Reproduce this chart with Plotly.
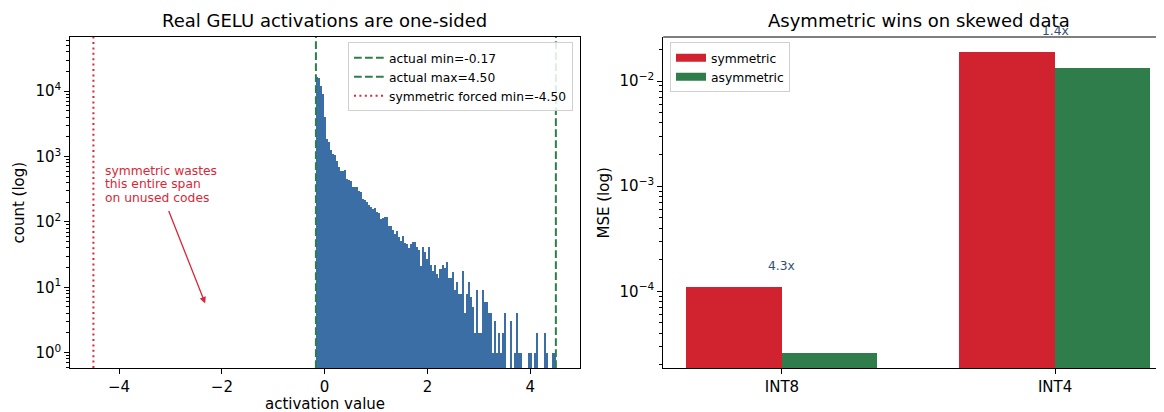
import numpy as np
import plotly.graph_objects as go

# ---------------- data ----------------
act_min = -0.17
act_max = 4.50
sym_min = -4.50
n_bins = 120
hist_counts = [
    16400, 16000, 12200, 9100, 4000, 1870, 1660, 1240, 1100, 1040,
    870, 690, 612, 612, 620, 457, 431, 420, 341, 341,
    340, 300, 286, 226, 215, 201, 179, 170, 159, 162,
    141, 135, 112, 115, 118, 118, 88, 88, 75, 66,
    72, 58, 52, 60, 48, 46, 40, 46, 49, 49,
    41, 37, 21, 41, 35, 27, 42, 22, 18, 22,
    16, 14, 19, 22, 20, 24, 14, 14, 17, 9,
    12, 8, 8, 18, 4, 8, 12, 7, 5, 2,
    9, 2, 2, 9, 6, 6, 4, 4, 1, 3,
    1, 2, 1, 2, 4, 0, 0, 3, 0, 1,
    4, 1, 1, 0, 0, 0, 1, 1, 0, 1,
    2, 0, 0, 0, 2, 1, 0, 0, 1, 1,
]
formats = ["INT8", "INT4"]
mse_symmetric = [1.11e-4, 1.89e-2]
mse_asymmetric = [2.57e-5, 1.33e-2]
ratio_labels = ["4.3x", "1.4x"]
note_lines = ["symmetric wastes", "this entire span", "on unused codes"]

# ---------------- style / geometry ----------------
VIEW_W, VIEW_H = 1164, 412
OFF = 8  # page body margin in the browser
W, H = VIEW_W - OFF, VIEW_H - OFF
FONT = "DejaVu Sans"
BLUE = "#3b6ea5"
GREEN = "#2e7d4a"
RED_BAR = "#d0222f"
RED_LINE = "#d62839"
LABEL_BLUE = "#34506f"
TICK_SIZE = 15.0
LABEL_SIZE = 15.0
TITLE_SIZE = 18.0
SMALL_SIZE = 12.3

# reference-pixel geometry of the axes boxes
L_X0, L_X1 = 70.3, 579.5
R_X0 = 663.2
TOP, BOT = 36.7, 367.7
plot_h = BOT - TOP


def px(xp):  # reference x pixel -> paper fraction
    return (xp - OFF) / W


def py(yp):  # reference y pixel -> paper fraction (plot area based)
    return (BOT - yp) / plot_h


def ylog_left(yp):  # reference y pixel -> log10 on left axis
    return (352.3 - yp) / 65.4


def x_left(xp):  # reference x pixel -> data x on left axis
    return (xp - 324.4) / 51.35


edges = np.linspace(act_min, act_max, n_bins + 1)
centers = (edges[:-1] + edges[1:]) / 2
bw = edges[1] - edges[0]
hist_y = [c if c > 0 else None for c in hist_counts]

fig = go.Figure()

# histogram
fig.add_trace(go.Bar(
    x=centers, y=hist_y, width=bw, marker=dict(color=BLUE, line=dict(width=0)),
    showlegend=False, xaxis="x", yaxis="y", hoverinfo="x+y",
))

line_specs = [
    (f"actual min={act_min:.2f}", act_min, GREEN, "7.7px,3.3px"),
    (f"actual max={act_max:.2f}", act_max, GREEN, "7.7px,3.3px"),
    (f"symmetric forced min={sym_min:.2f}", sym_min, RED_LINE, "2px,3.4px"),
]
for name, v, color, dash in line_specs:
    fig.add_trace(go.Scatter(
        x=[None], y=[None], mode="lines", name=name,
        line=dict(color=color, width=2, dash=dash),
        xaxis="x", yaxis="y", legend="legend",
    ))
    fig.add_shape(type="line", xref="x", yref="y domain", x0=v, x1=v, y0=0, y1=1,
                  line=dict(color=color, width=2, dash=dash))

# right bar chart
fig.add_trace(go.Bar(
    x=formats, y=mse_symmetric, name="symmetric", width=0.35, offset=-0.35,
    marker=dict(color=RED_BAR, line=dict(width=0)), xaxis="x2", yaxis="y2",
    showlegend=False,
))
fig.add_trace(go.Bar(
    x=formats, y=mse_asymmetric, name="asymmetric", width=0.35, offset=0.0,
    marker=dict(color=GREEN, line=dict(width=0)), xaxis="x2", yaxis="y2",
    showlegend=False,
))
for name, color in [("symmetric", RED_BAR), ("asymmetric", GREEN)]:
    fig.add_trace(go.Scatter(
        x=[None], y=[None], mode="lines", name=name,
        line=dict(color=color, width=8), xaxis="x2", yaxis="y2", legend="legend2",
    ))

annotations = []
for f, s, lab in zip(formats, mse_symmetric, ratio_labels):
    annotations.append(dict(
        x=f, y=np.log10(s * 1.3), xref="x2", yref="y2", text=lab, showarrow=False,
        yanchor="bottom", xanchor="center", font=dict(size=SMALL_SIZE, color=LABEL_BLUE),
    ))

# wasted-span note: three text lines + arrow
for line_txt, yp in zip(note_lines, [170.5, 184.0, 197.5]):
    annotations.append(dict(
        x=x_left(103.3), y=ylog_left(yp), xref="x", yref="y", text=line_txt,
        showarrow=False, xanchor="left", yanchor="middle",
        font=dict(size=SMALL_SIZE, color=RED_LINE),
    ))
annotations.append(dict(
    x=x_left(205), y=ylog_left(303), xref="x", yref="y",
    ax=x_left(168), ay=ylog_left(209), axref="x", ayref="y",
    text="", showarrow=True, arrowhead=2, arrowsize=1, arrowwidth=1.3,
    arrowcolor=RED_LINE, standoff=0, startstandoff=0,
))

# titles
annotations.append(dict(
    x=px((L_X0 + L_X1) / 2), y=py(20.0), xref="paper", yref="paper",
    text="Real GELU activations are one-sided", showarrow=False,
    xanchor="center", yanchor="middle", font=dict(size=TITLE_SIZE, color="black"),
))
annotations.append(dict(
    x=px(918.5), y=py(20.0), xref="paper", yref="paper",
    text="Asymmetric wins on skewed data", showarrow=False,
    xanchor="center", yanchor="middle", font=dict(size=TITLE_SIZE, color="black"),
))
# axis titles
annotations.append(dict(
    x=px((L_X0 + L_X1) / 2), y=py(404), xref="paper", yref="paper",
    text="activation value", showarrow=False, xanchor="center", yanchor="middle",
    font=dict(size=LABEL_SIZE, color="black"),
))
annotations.append(dict(
    x=px(18), y=0.5, xref="paper", yref="paper", textangle=-90,
    text="count (log)", showarrow=False, xanchor="center", yanchor="middle",
    font=dict(size=LABEL_SIZE, color="black"),
))
annotations.append(dict(
    x=px(603), y=0.5, xref="paper", yref="paper", textangle=-90,
    text="MSE (log)", showarrow=False, xanchor="center", yanchor="middle",
    font=dict(size=LABEL_SIZE, color="black"),
))


def sup(n):
    s = str(n).replace("-", "\u2212")
    return f"10<sup>{s}</sup>"


left_major = [0, 1, 2, 3, 4]
left_minor = [m * 10.0 ** k for k in range(-1, 5) for m in range(2, 10)]
left_minor = [v for v in left_minor if -0.235 < np.log10(v) < 4.83]
right_major = [-4, -3, -2]
right_minor = [m * 10.0 ** k for k in range(-5, -1) for m in range(2, 10)]
right_minor = [v for v in right_minor if -4.73 < np.log10(v) < -1.58]

axis_common = dict(
    showline=True, linecolor="black", linewidth=1.1, ticks="outside", ticklen=5,
    tickwidth=1.1, tickcolor="black", showgrid=False, zeroline=False, automargin=False,
    tickfont=dict(size=TICK_SIZE, color="black"),
)
minor_common = dict(ticks="outside", ticklen=2.8, tickcolor="black", tickwidth=0.8)

fig.update_layout(
    width=W, height=H,
    margin=dict(l=0, r=0, t=TOP - OFF, b=VIEW_H - BOT, autoexpand=False),
    paper_bgcolor="white", plot_bgcolor="white",
    font=dict(family=FONT, size=TICK_SIZE, color="black"),
    barmode="overlay", bargap=0,
    xaxis=dict(domain=[px(L_X0), px(L_X1)], range=[-4.95, 4.96],
               tickvals=[-4, -2, 0, 2, 4], mirror=True, **axis_common),
    yaxis=dict(type="log", range=[-0.235, 4.83], anchor="x", mirror=True,
               tickvals=[10 ** k for k in left_major], ticktext=[sup(k) for k in left_major],
               minor=dict(tickvals=left_minor, **minor_common), **axis_common),
    xaxis2=dict(domain=[px(R_X0), 1.0], range=[-0.435, 1.399], anchor="y2",
                type="category", mirror=False, **axis_common),
    yaxis2=dict(type="log", range=[-4.73, -1.58], anchor="x2", mirror=False,
                tickvals=[10.0 ** k for k in right_major], ticktext=[sup(k) for k in right_major],
                minor=dict(tickvals=right_minor, **minor_common), **axis_common),
    legend=dict(x=px(573), y=py(42), xanchor="right", yanchor="top",
                bgcolor="rgba(255,255,255,0.85)", bordercolor="#d0d0d0", borderwidth=1,
                font=dict(size=SMALL_SIZE, color="black"), itemwidth=30, tracegroupgap=0),
    legend2=dict(x=px(670), y=py(42), xanchor="left", yanchor="top",
                 bgcolor="rgba(255,255,255,0.85)", bordercolor="#d0d0d0", borderwidth=1,
                 font=dict(size=SMALL_SIZE, color="black"), itemwidth=30, tracegroupgap=0),
    annotations=annotations,
)

# top spine of right axes
fig.add_shape(type="line", xref="x2 domain", yref="y2 domain", x0=0, x1=1, y0=1, y1=1,
              line=dict(color="black", width=1.1))

fig.write_html("out.html")
